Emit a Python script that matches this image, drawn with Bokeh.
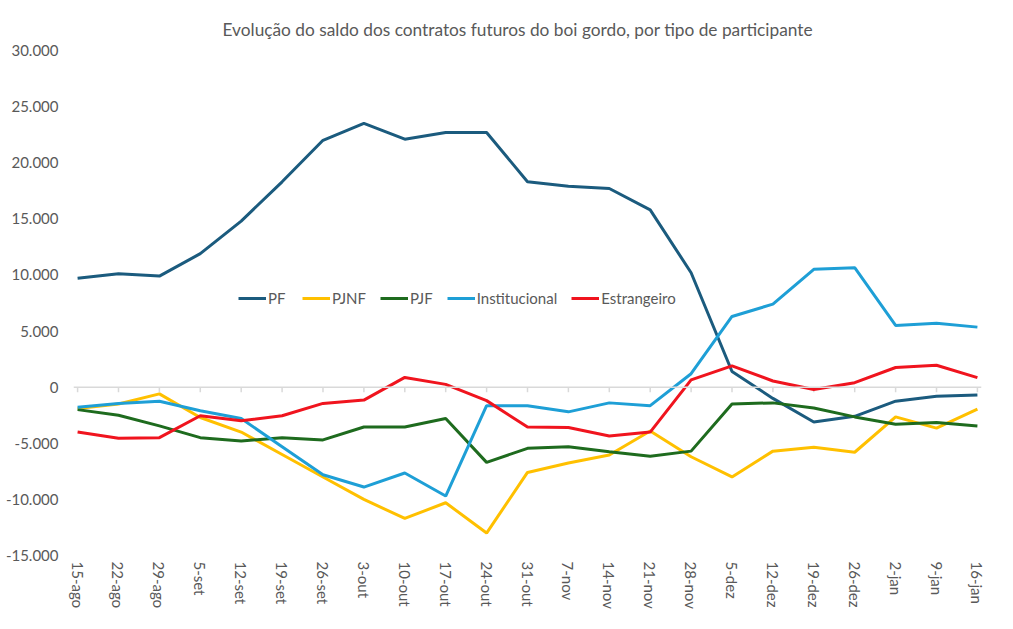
from bokeh.plotting import figure
from bokeh.models import Range1d, FixedTicker, Span, Legend, LegendItem
from bokeh.embed import file_html
from bokeh.resources import INLINE

categories = ["15-ago", "22-ago", "29-ago", "5-set", "12-set", "19-set", "26-set", "3-out",
              "10-out", "17-out", "24-out", "31-out", "7-nov", "14-nov", "21-nov", "28-nov",
              "5-dez", "12-dez", "19-dez", "26-dez", "2-jan", "9-jan", "16-jan"]

pf = [9700, 10100, 9900, 11900, 14800, 18300, 22000, 23500, 22100, 22700, 22700,
      18300, 17900, 17700, 15800, 10200, 1400, -1000, -3100, -2600, -1250, -800, -700]
pjnf = [-1900, -1500, -600, -2700, -4000, -6000, -8000, -10000, -11700, -10300, -13000,
        -7600, -6750, -6050, -3900, -6200, -8000, -5700, -5350, -5800, -2650, -3650, -1950]
pjf = [-2000, -2500, -3450, -4500, -4800, -4500, -4700, -3550, -3550, -2800, -6700,
       -5450, -5300, -5750, -6150, -5700, -1500, -1400, -1850, -2650, -3300, -3150, -3450]
inst = [-1800, -1450, -1250, -2100, -2800, -5300, -7800, -8900, -7650, -9700, -1650,
        -1650, -2200, -1400, -1650, 1200, 6300, 7400, 10500, 10650, 5500, 5700, 5350]
estr = [-4000, -4550, -4500, -2550, -3000, -2550, -1450, -1150, 870, 250, -1200,
        -3550, -3600, -4350, -4000, 650, 1900, 550, -200, 400, 1750, 1950, 850]

series_names = ["PF", "PJNF", "PJF", "Institucional", "Estrangeiro"]
series_values = [pf, pjnf, pjf, inst, estr]
colors = ["#1B5B7E", "#FFC000", "#1E6B1E", "#1E9FD6", "#F0141E"]

y_ticks = [-15000, -10000, -5000, 0, 5000, 10000, 15000, 20000, 25000, 30000]
y_tick_labels = ["-15.000", "-10.000", "-5.000", "0", "5.000", "10.000", "15.000",
                 "20.000", "25.000", "30.000"]
title_text = "Evolução do saldo dos contratos futuros do boi gordo, por tipo de participante"

n = len(categories)
xs = list(range(n))

FONT = "Lato"
GRAY = "#595959"

p = figure(width=997, height=617, output_backend="svg", toolbar_location=None,
           x_range=Range1d(-0.1, n - 1 + 0.1), y_range=Range1d(-15000, 30000),
           min_border_left=73, min_border_right=16, min_border_top=50, min_border_bottom=62)
p.outline_line_color = None
p.xgrid.visible = False
p.ygrid.visible = False

p.title.text = title_text
p.title.align = "left"
p.title.text_font = FONT
p.title.text_font_size = "17.3px"
p.title.text_font_style = "normal"
p.title.text_color = GRAY
p.title.offset = 149
p.title.standoff = 22

# y axis
p.yaxis.ticker = FixedTicker(ticks=y_ticks)
p.yaxis.major_label_overrides = {t: l for t, l in zip(y_ticks, y_tick_labels)}
p.yaxis.axis_line_color = None
p.yaxis.major_tick_line_color = None
p.yaxis.minor_tick_line_color = None
p.yaxis.major_label_standoff = 9
p.yaxis.major_label_text_font = FONT
p.yaxis.major_label_text_font_size = "15px"
p.yaxis.major_label_text_color = GRAY

# x axis
p.xaxis.ticker = FixedTicker(ticks=xs)
p.xaxis.major_label_overrides = {i: c for i, c in zip(xs, categories)}
p.xaxis.axis_line_color = None
p.xaxis.major_tick_line_color = None
p.xaxis.minor_tick_line_color = None
p.xaxis.major_label_orientation = "vertical"
p.xaxis.major_label_standoff = 0
p.xaxis.major_label_text_font = FONT
p.xaxis.major_label_text_font_size = "15px"
p.xaxis.major_label_text_color = GRAY

# zero line with tick marks
p.add_layout(Span(location=0, dimension="width", line_color="#D9D9D9", line_width=1.5))
p.segment(x0=xs, y0=[0] * n, x1=xs, y1=[-450] * n, line_color="#D9D9D9", line_width=1.5)

items = []
for name, vals, c in zip(series_names, series_values, colors):
    r = p.line(xs, vals, line_color=c, line_width=3)
    items.append(LegendItem(label=name, renderers=[r]))

legend = Legend(items=items, orientation="horizontal", location=(165, 248),
                background_fill_alpha=0, border_line_color=None,
                label_text_font=FONT, label_text_font_size="15px", label_text_color=GRAY,
                glyph_width=28, glyph_height=14, spacing=14, padding=0, margin=0,
                label_standoff=2)
p.add_layout(legend, "center")

open("out.html", "w").write(file_html(p, INLINE))
